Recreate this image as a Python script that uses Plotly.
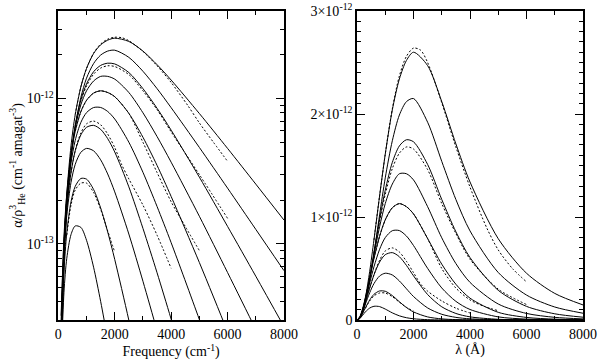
import plotly.graph_objects as go

# frequency grid (cm^-1) shared by the solid curves
freq = [0, 100, 200, 300, 450, 600, 800, 1000, 1250, 1500, 1750, 2000,
        2500, 3000, 3500, 4000, 5000, 6000, 7000, 8000]

# solid curves, absorption in units of 1e-12 cm^-1 amagat^-3
c1 = [0, 0.022, 0.097, 0.22, 0.473, 0.777, 1.205, 1.61, 2.04, 2.34, 2.52, 2.60,
      2.47, 2.12, 1.71, 1.34, 0.789, 0.454, 0.258, 0.146]
c2 = [0, 0.0139, 0.069, 0.167, 0.380, 0.643, 1.02, 1.38, 1.74, 1.99, 2.12, 2.15,
      1.92, 1.54, 1.17, 0.865, 0.461, 0.242, 0.126, 0.0655]
c3 = [0, 0.0217, 0.091, 0.200, 0.414, 0.656, 0.978, 1.26, 1.53, 1.69, 1.75, 1.73,
      1.51, 1.17, 0.857, 0.606, 0.288, 0.132, 0.060, 0.027]
c4 = [0, 0.0238, 0.096, 0.204, 0.408, 0.629, 0.906, 1.13, 1.32, 1.42, 1.42, 1.36,
      1.10, 0.798, 0.548, 0.365, 0.155, 0.0636, 0.0258, 0.0104]
c5 = [0, 0.0321, 0.112, 0.221, 0.408, 0.596, 0.813, 0.973, 1.09, 1.13, 1.10, 1.03,
      0.791, 0.542, 0.347, 0.212, 0.0745, 0.0249, 0.0081, 0.0026]
c6 = [0, 0.0298, 0.103, 0.200, 0.361, 0.516, 0.686, 0.800, 0.867, 0.868, 0.815, 0.723,
      0.501, 0.311, 0.181, 0.102, 0.0302, 0.0086, 0.0025, 0.0007]
c7 = [0, 0.0243, 0.0875, 0.172, 0.310, 0.437, 0.563, 0.634, 0.654, 0.614, 0.530, 0.429,
      0.247, 0.128, 0.0634, 0.0304, 0.0067, 0.0014, 0.0003, 0.0001]
c8 = [0, 0.0256, 0.0846, 0.157, 0.265, 0.353, 0.427, 0.454, 0.437, 0.379, 0.303, 0.228,
      0.117, 0.0554, 0.0253, 0.0113, 0.0022, 0.0004, 0.0001, 0.00002]
c9 = [0, 0.0191, 0.0643, 0.119, 0.195, 0.249, 0.282, 0.279, 0.237, 0.177, 0.121, 0.0782,
      0.0299, 0.0107, 0.0037, 0.0012, 0.0001, 0.00001, 0.000001, 0.0000001]
c10 = [0, 0.0148, 0.0465, 0.0796, 0.116, 0.133, 0.130, 0.106, 0.0692, 0.0403, 0.0221, 0.0117,
       0.0031, 0.0008, 0.0002, 0.00005, 0.000003, 0.0000002, 0.00000001, 0.000000001]

# dotted comparison curves
d1_freq = [600, 800, 1000, 1250, 1500, 1750, 2000, 2250, 2500, 3000, 3500, 4000, 4600, 5000, 5500, 6000]
d1 = [0.777, 1.205, 1.61, 2.05, 2.37, 2.56, 2.64, 2.62, 2.50, 2.11, 1.68, 1.29, 0.89, 0.68, 0.50, 0.37]
d3_freq = [600, 800, 1000, 1250, 1500, 1750, 2000, 2500, 3000, 3500, 4000, 5000, 6000]
d3 = [0.65, 0.96, 1.22, 1.47, 1.62, 1.68, 1.66, 1.46, 1.13, 0.84, 0.59, 0.30, 0.15]
d5_freq = [600, 800, 1000, 1250, 1500, 1750, 2000, 2500, 3000, 3500, 4000, 4500, 5000]
d5 = [0.596, 0.813, 0.97, 1.09, 1.13, 1.10, 1.03, 0.79, 0.50, 0.31, 0.195, 0.132, 0.090]
d7_freq = [400, 600, 800, 1000, 1250, 1500, 1750, 2000, 2250, 2500, 3000, 3500, 4000]
d7 = [0.27, 0.44, 0.58, 0.67, 0.70, 0.66, 0.57, 0.46, 0.35, 0.28, 0.185, 0.115, 0.068]
d9_freq = [300, 450, 600, 800, 1000, 1250, 1500, 1750, 2000]
d9 = [0.115, 0.185, 0.235, 0.262, 0.262, 0.226, 0.173, 0.123, 0.088]

solid = [c1, c2, c3, c4, c5, c6, c7, c8, c9, c10]
dotted = [(d1_freq, d1), (d3_freq, d3), (d5_freq, d5), (d7_freq, d7), (d9_freq, d9)]

FONT = "Times New Roman, Liberation Serif, serif"

fig = go.Figure()

for vals in solid:
    y = [v * 1e-12 for v in vals]
    # left panel: log scale, skip the zero point
    fig.add_trace(go.Scatter(x=freq[1:], y=y[1:], xaxis="x", yaxis="y", mode="lines",
                             line=dict(color="black", width=1, shape="spline", smoothing=0.8),
                             showlegend=False, hoverinfo="skip"))
    fig.add_trace(go.Scatter(x=freq, y=y, xaxis="x2", yaxis="y2", mode="lines",
                             line=dict(color="black", width=1, shape="spline", smoothing=0.8),
                             showlegend=False, hoverinfo="skip"))

for fx, vals in dotted:
    y = [v * 1e-12 for v in vals]
    for xa, ya in (("x", "y"), ("x2", "y2")):
        fig.add_trace(go.Scatter(x=fx, y=y, xaxis=xa, yaxis=ya, mode="lines",
                                 line=dict(color="black", width=1, dash="2px,2px",
                                           shape="spline", smoothing=0.8),
                                 showlegend=False, hoverinfo="skip"))

axis_common = dict(showline=True, linecolor="black", linewidth=1.5, mirror="ticks",
                   ticks="inside", ticklen=8, tickwidth=1, tickcolor="black",
                   showgrid=False, zeroline=False, automargin=False,
                   tickfont=dict(family=FONT, size=14, color="black"))

xtick = dict(tickmode="array", tickvals=[0, 2000, 4000, 6000, 8000],
             ticktext=["0", "2000", "4000", "6000", "8000"],
             minor=dict(dtick=1000, ticks="inside", ticklen=4, tickwidth=1, tickcolor="black"))

minor_log = [4e-14, 5e-14, 6e-14, 7e-14, 8e-14, 9e-14,
             2e-13, 3e-13, 4e-13, 5e-13, 6e-13, 7e-13, 8e-13, 9e-13,
             2e-12, 3e-12]

fig.update_layout(
    width=600, height=361,
    margin=dict(l=0, r=0, t=0, b=0),
    paper_bgcolor="white", plot_bgcolor="white",
    font=dict(family=FONT, size=14, color="black"),
    xaxis=dict(domain=[0.0972, 0.4733], range=[0, 8000], anchor="y",
               title=dict(text="Frequency (cm<sup>-1</sup>)", standoff=4,
                          font=dict(family=FONT, size=14)),
               **xtick, **axis_common),
    yaxis=dict(domain=[0.1136, 0.9695], type="log", range=[-13.523, -11.398], anchor="x",
               tickmode="array", tickvals=[1e-13, 1e-12],
               ticktext=["10<sup>-13</sup>", "10<sup>-12</sup>"],
               minor=dict(tickmode="array", tickvals=minor_log, ticks="inside",
                          ticklen=4, tickwidth=1, tickcolor="black"),
               title=dict(text="α/ρ<sup>3</sup><sub>He</sub> (cm<sup>-1</sup> amagat<sup>-3</sup>)",
                          standoff=1, font=dict(family=FONT, size=14)),
               **axis_common),
    xaxis2=dict(domain=[0.595, 0.9717], range=[0, 8000], anchor="y2",
                title=dict(text="λ (Å)", standoff=4, font=dict(family=FONT, size=14)),
                **xtick, **axis_common),
    yaxis2=dict(domain=[0.1136, 0.9695], range=[0, 3e-12], anchor="x2",
                tickmode="array", tickvals=[0, 1e-12, 2e-12, 3e-12],
                ticktext=["0", "1×10<sup>-12</sup>", "2×10<sup>-12</sup>", "3×10<sup>-12</sup>"],
                minor=dict(dtick=1e-13, ticks="inside", ticklen=4, tickwidth=1, tickcolor="black"),
                **axis_common),
)

# remove the default page margin so the figure sits at the window corner
fig.write_html("out.html", config={"displayModeBar": False},
               post_script="document.body.style.margin='0';")
